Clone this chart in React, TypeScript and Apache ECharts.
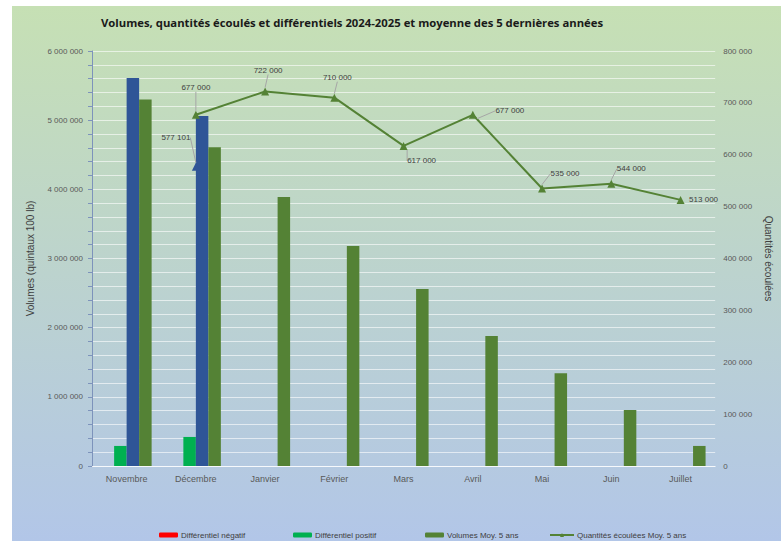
import React, { useEffect, useRef } from "react";
import * as echarts from "echarts";

const categories = ["Novembre", "Décembre", "Janvier", "Février", "Mars", "Avril", "Mai", "Juin", "Juillet"];
const diffNegatif: (number | null)[] = [null, null, null, null, null, null, null, null, null];
const diffPositif: (number | null)[] = [290000, 420000, null, null, null, null, null, null, null];
const volumes2425: (number | null)[] = [5610000, 5060000, null, null, null, null, null, null, null];
const volumesMoy5: number[] = [5300000, 4610000, 3890000, 3180000, 2560000, 1880000, 1340000, 810000, 290000];
const quantitesMoy5: (number | null)[] = [null, 677000, 722000, 710000, 617000, 677000, 535000, 544000, 513000];
const quantites2425: (number | null)[] = [null, 577101, null, null, null, null, null, null, null];

const moyLabelOffsets: [number, number][] = [
  [0, 0], [0, -27], [3, -21], [3, -20], [18, 15], [37, -4], [23, -15], [20, -15], [23, 0],
];
const curLabelOffsets: [number, number][] = [
  [0, 0], [-20, -29], [0, 0], [0, 0], [0, 0], [0, 0], [0, 0], [0, 0], [0, 0],
];

const FONT = "'Liberation Sans', Arial, sans-serif";
const fmt = (v: number) => String(Math.round(v)).replace(/\B(?=(\d{3})+(?!\d))/g, " ");

export default function App() {
  const ref = useRef<HTMLDivElement>(null);
  useEffect(() => {
    if (!ref.current) return;
    const chart = echarts.init(ref.current, null, { renderer: "svg" });
    const labelText = { fontSize: 8, color: "#404040", fontFamily: FONT };
    const option: any = {
      animation: false,
      graphic: [
        {
          type: "rect",
          z: -10,
          silent: true,
          shape: { x: 12, y: 6, width: 769, height: 535 },
          style: {
            fill: new echarts.graphic.LinearGradient(0, 0, 0, 1, [
              { offset: 0, color: "#c6e0b4" },
              { offset: 1, color: "#b2c6e8" },
            ]),
          },
        },
      ],
      title: {
        text: "Volumes, quantités écoulés et différentiels 2024-2025 et moyenne des 5 dernières années",
        left: 96,
        top: 12,
        textStyle: { fontSize: 11.3, fontWeight: "bold", color: "#1a1a1a", fontFamily: "'Open Sans', sans-serif" },
      },
      legend: [
        { data: ["Différentiel négatif"], left: 159, top: 531 },
        { data: ["Différentiel positif"], left: 293, top: 531 },
        { data: ["Volumes Moy. 5 ans"], left: 425, top: 531 },
        { data: ["Quantités écoulées Moy. 5 ans"], left: 549, top: 531, itemWidth: 24 },
      ].map((l: any) => ({
        itemWidth: 19,
        itemHeight: 5,
        padding: 0,
        textStyle: { fontSize: 8, color: "#404040", fontFamily: FONT, padding: [0, 0, 0, -2] },
        ...l,
      })),
      grid: { left: 92, width: 633, top: 51, height: 415, containLabel: false },
      xAxis: {
        type: "category",
        data: categories,
        axisLine: { show: true, lineStyle: { color: "rgba(255,255,255,0.7)" } },
        axisTick: { show: false },
        axisLabel: { fontSize: 9, color: "#595959", fontFamily: FONT, margin: 8 },
        splitLine: { show: false },
      },
      yAxis: [
        {
          type: "value",
          min: 0,
          max: 6000000,
          interval: 1000000,
          name: "Volumes (quintaux 100 lb)",
          nameLocation: "middle",
          nameGap: 57,
          nameTextStyle: { fontSize: 10, color: "#404040", fontFamily: FONT },
          axisLine: { show: true, lineStyle: { color: "#7d93bb" } },
          axisTick: { show: true, length: 4, lineStyle: { color: "#7d93bb" } },
          minorTick: { show: true, splitNumber: 5, length: 4, lineStyle: { color: "#7d93bb" } },
          splitLine: { show: true, lineStyle: { color: "rgba(255,255,255,0.6)" } },
          minorSplitLine: { show: true, lineStyle: { color: "rgba(255,255,255,0.6)" } },
          axisLabel: { fontSize: 8, color: "#595959", fontFamily: FONT, margin: 9, formatter: fmt },
        },
        {
          type: "value",
          min: 0,
          max: 800000,
          interval: 100000,
          name: "Quantités écoulées",
          nameLocation: "middle",
          nameGap: 42,
          nameRotate: -90,
          nameTextStyle: { fontSize: 10, color: "#404040", fontFamily: FONT },
          axisLine: { show: false },
          axisTick: { show: false },
          splitLine: { show: false },
          axisLabel: { fontSize: 8, color: "#595959", fontFamily: FONT, margin: 8, formatter: fmt },
        },
      ],
      series: [
        { name: "Différentiel négatif", type: "bar", data: diffNegatif, barWidth: 12.5, barGap: "0%", itemStyle: { color: "#ff0000" } },
        { name: "Différentiel positif", type: "bar", data: diffPositif, barWidth: 12.5, barGap: "0%", itemStyle: { color: "#00b050" } },
        { name: "Volumes 2024-2025", type: "bar", data: volumes2425, barWidth: 12.5, barGap: "0%", itemStyle: { color: "#2f5597" } },
        { name: "Volumes Moy. 5 ans", type: "bar", data: volumesMoy5, barWidth: 12.5, barGap: "0%", itemStyle: { color: "#548235" } },
        {
          name: "Quantités écoulées Moy. 5 ans",
          type: "line",
          yAxisIndex: 1,
          data: quantitesMoy5.map((v, i) =>
            i === 8 ? { value: v, labelLine: { show: false } } : v
          ),
          symbol: "triangle",
          symbolSize: 8,
          lineStyle: { color: "#548235", width: 2 },
          itemStyle: { color: "#548235" },
          z: 5,
          label: { show: true, position: "inside", formatter: (p: any) => fmt(p.value), ...labelText },
          labelLine: { show: true, lineStyle: { color: "#a6a6a6", width: 1 } },
          labelLayout: (p: any) => ({ dx: moyLabelOffsets[p.dataIndex][0], dy: moyLabelOffsets[p.dataIndex][1] }),
        },
        {
          name: "Quantités écoulées 2024-2025",
          type: "line",
          yAxisIndex: 1,
          data: quantites2425,
          symbol: "triangle",
          symbolSize: 8,
          lineStyle: { color: "#2f5597", width: 2 },
          itemStyle: { color: "#2f5597" },
          z: 5,
          label: { show: true, position: "inside", formatter: (p: any) => fmt(p.value), ...labelText },
          labelLine: { show: true, lineStyle: { color: "#a6a6a6", width: 1 } },
          labelLayout: (p: any) => ({ dx: curLabelOffsets[p.dataIndex][0], dy: curLabelOffsets[p.dataIndex][1] }),
        },
      ],
    };
    chart.setOption(option);
    return () => chart.dispose();
  }, []);
  return (
    <div
      ref={ref}
      style={{ position: "absolute", left: 0, top: 0, width: 781, height: 541, background: "#ffffff" }}
    />
  );
}
